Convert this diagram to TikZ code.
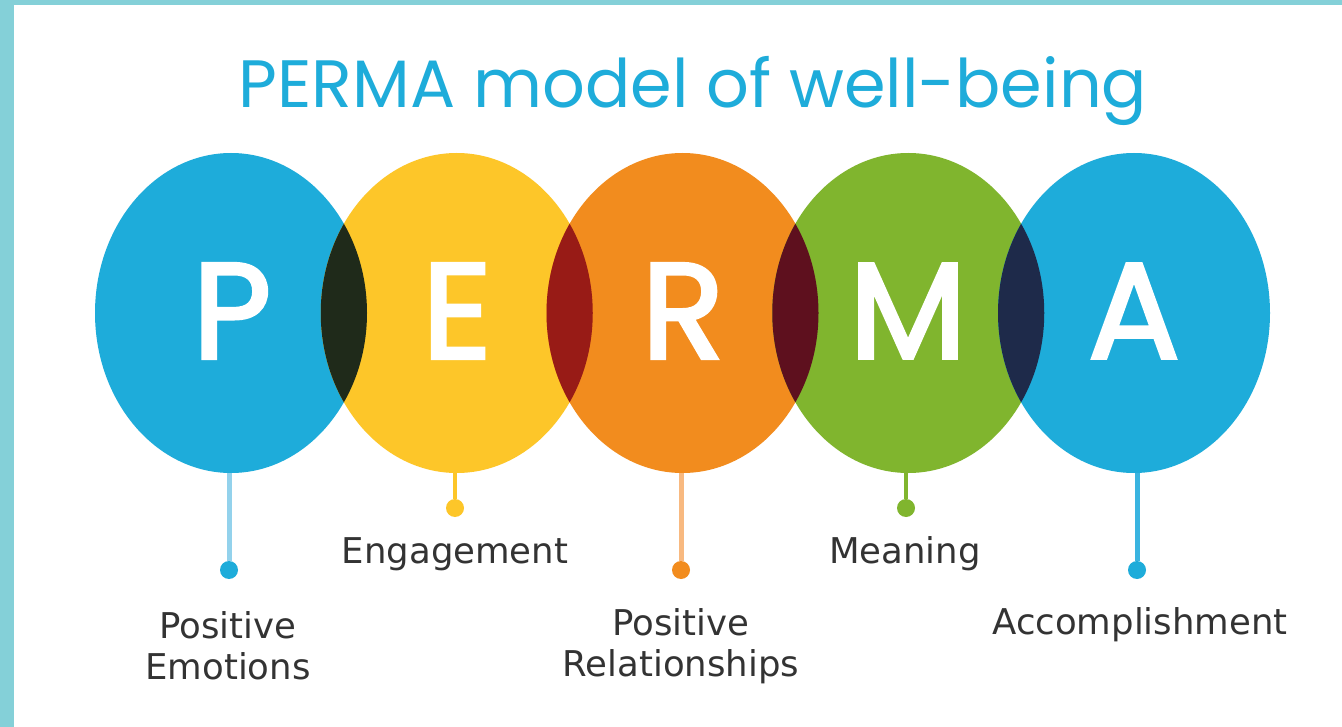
\documentclass[tikz,border=0pt]{standalone}
\usepackage{fontspec}
\usetikzlibrary{shapes.geometric}
\newfontfamily\titlefont{Poppins}
\newfontfamily\letterfont[FakeBold=2.5]{Poppins}
\newfontfamily\labelfont{DejaVu Sans}
\definecolor{frame}{HTML}{84D0D8}
\definecolor{pblue}{HTML}{1EACDA}
\definecolor{eyellow}{HTML}{FDC629}
\definecolor{rorange}{HTML}{F28C1E}
\definecolor{mgreen}{HTML}{80B52E}
\definecolor{ovPE}{HTML}{1F2A1A}
\definecolor{ovER}{HTML}{981B16}
\definecolor{ovRM}{HTML}{5E101E}
\definecolor{ovMA}{HTML}{1E2A4A}
\definecolor{lblue}{HTML}{93D2EC}
\definecolor{lorange}{HTML}{F8B980}
\definecolor{lablue}{HTML}{3AB4E0}
\definecolor{txt}{HTML}{333333}
\begin{document}
\begin{tikzpicture}[x=1pt,y=-1pt,
  bubble/.style={ellipse, minimum width=272pt, minimum height=320pt, inner sep=0pt, outer sep=0pt,
    text=white, font=\letterfont\fontsize{136}{136}\selectfont},
  dot/.style={circle, minimum size=18pt, inner sep=0pt},
  stem/.style={line width=5pt},
  lab/.style={text=txt, font=\labelfont\fontsize{35.5}{41}\selectfont, align=center}]
\useasboundingbox (0,0) rectangle (1342,727);
\fill[white] (0,0) rectangle (1342,727);
\fill[frame] (0,0) rectangle (14,727);
\fill[frame] (0,0) rectangle (1342,5);
\node[text=pblue, font=\titlefont\fontsize{67}{67}\selectfont, anchor=base, inner sep=0pt] (title) at (693,108) {PERMA model of well-being};
% bubbles
\node[bubble, fill=pblue] (P) at (231,313) {};
\node[bubble, fill=eyellow] (E) at (456.75,313) {};
\node[bubble, fill=rorange] (R) at (682.5,313) {};
\node[bubble, fill=mgreen] (M) at (908.25,313) {};
\node[bubble, fill=pblue] (A) at (1134,313) {};
% overlaps
\begin{scope}
\clip (P.center) ellipse [x radius=136pt, y radius=160pt];
\fill[ovPE] (E.center) ellipse [x radius=136pt, y radius=160pt];
\end{scope}
\begin{scope}
\clip (E.center) ellipse [x radius=136pt, y radius=160pt];
\fill[ovER] (R.center) ellipse [x radius=136pt, y radius=160pt];
\end{scope}
\begin{scope}
\clip (R.center) ellipse [x radius=136pt, y radius=160pt];
\fill[ovRM] (M.center) ellipse [x radius=136pt, y radius=160pt];
\end{scope}
\begin{scope}
\clip (M.center) ellipse [x radius=136pt, y radius=160pt];
\fill[ovMA] (A.center) ellipse [x radius=136pt, y radius=160pt];
\end{scope}
% letters
\node[bubble, fill=none] (Pl) at (232,311) {P};
\node[bubble, fill=none] (El) at (457,311) {E};
\node[bubble, fill=none] (Rl) at (683,311) {R};
\node[bubble, fill=none] (Ml) at (908,311) {M};
\node[bubble, fill=none] (Al) at (1134,311) {A};
% dots and stems
\node[dot, fill=pblue] (dP) at (229,570) {};
\node[dot, fill=eyellow] (dE) at (455,508) {};
\node[dot, fill=rorange] (dR) at (681,570) {};
\node[dot, fill=mgreen] (dM) at (906,508) {};
\node[dot, fill=pblue] (dA) at (1137,570) {};
\draw[stem, lblue] (P.south -| dP) -- (dP);
\draw[stem, eyellow, line width=4pt] (E.south -| dE) -- (dE);
\draw[stem, lorange] (R.south -| dR) -- (dR);
\draw[stem, mgreen, line width=4pt] (M.south -| dM) -- (dM);
\draw[stem, lablue] (A.south -| dA) -- (dA);
% labels
\node[lab] (tP) at (228,646) {Positive\\Emotions};
\node[lab] (tE) at (455,554) {Engagement};
\node[lab] (tR) at (681,646) {Positive\\Relationships};
\node[lab] (tM) at (905,554) {Meaning};
\node[lab] (tA) at (1140,625) {Accomplishment};
\end{tikzpicture}
\end{document}
